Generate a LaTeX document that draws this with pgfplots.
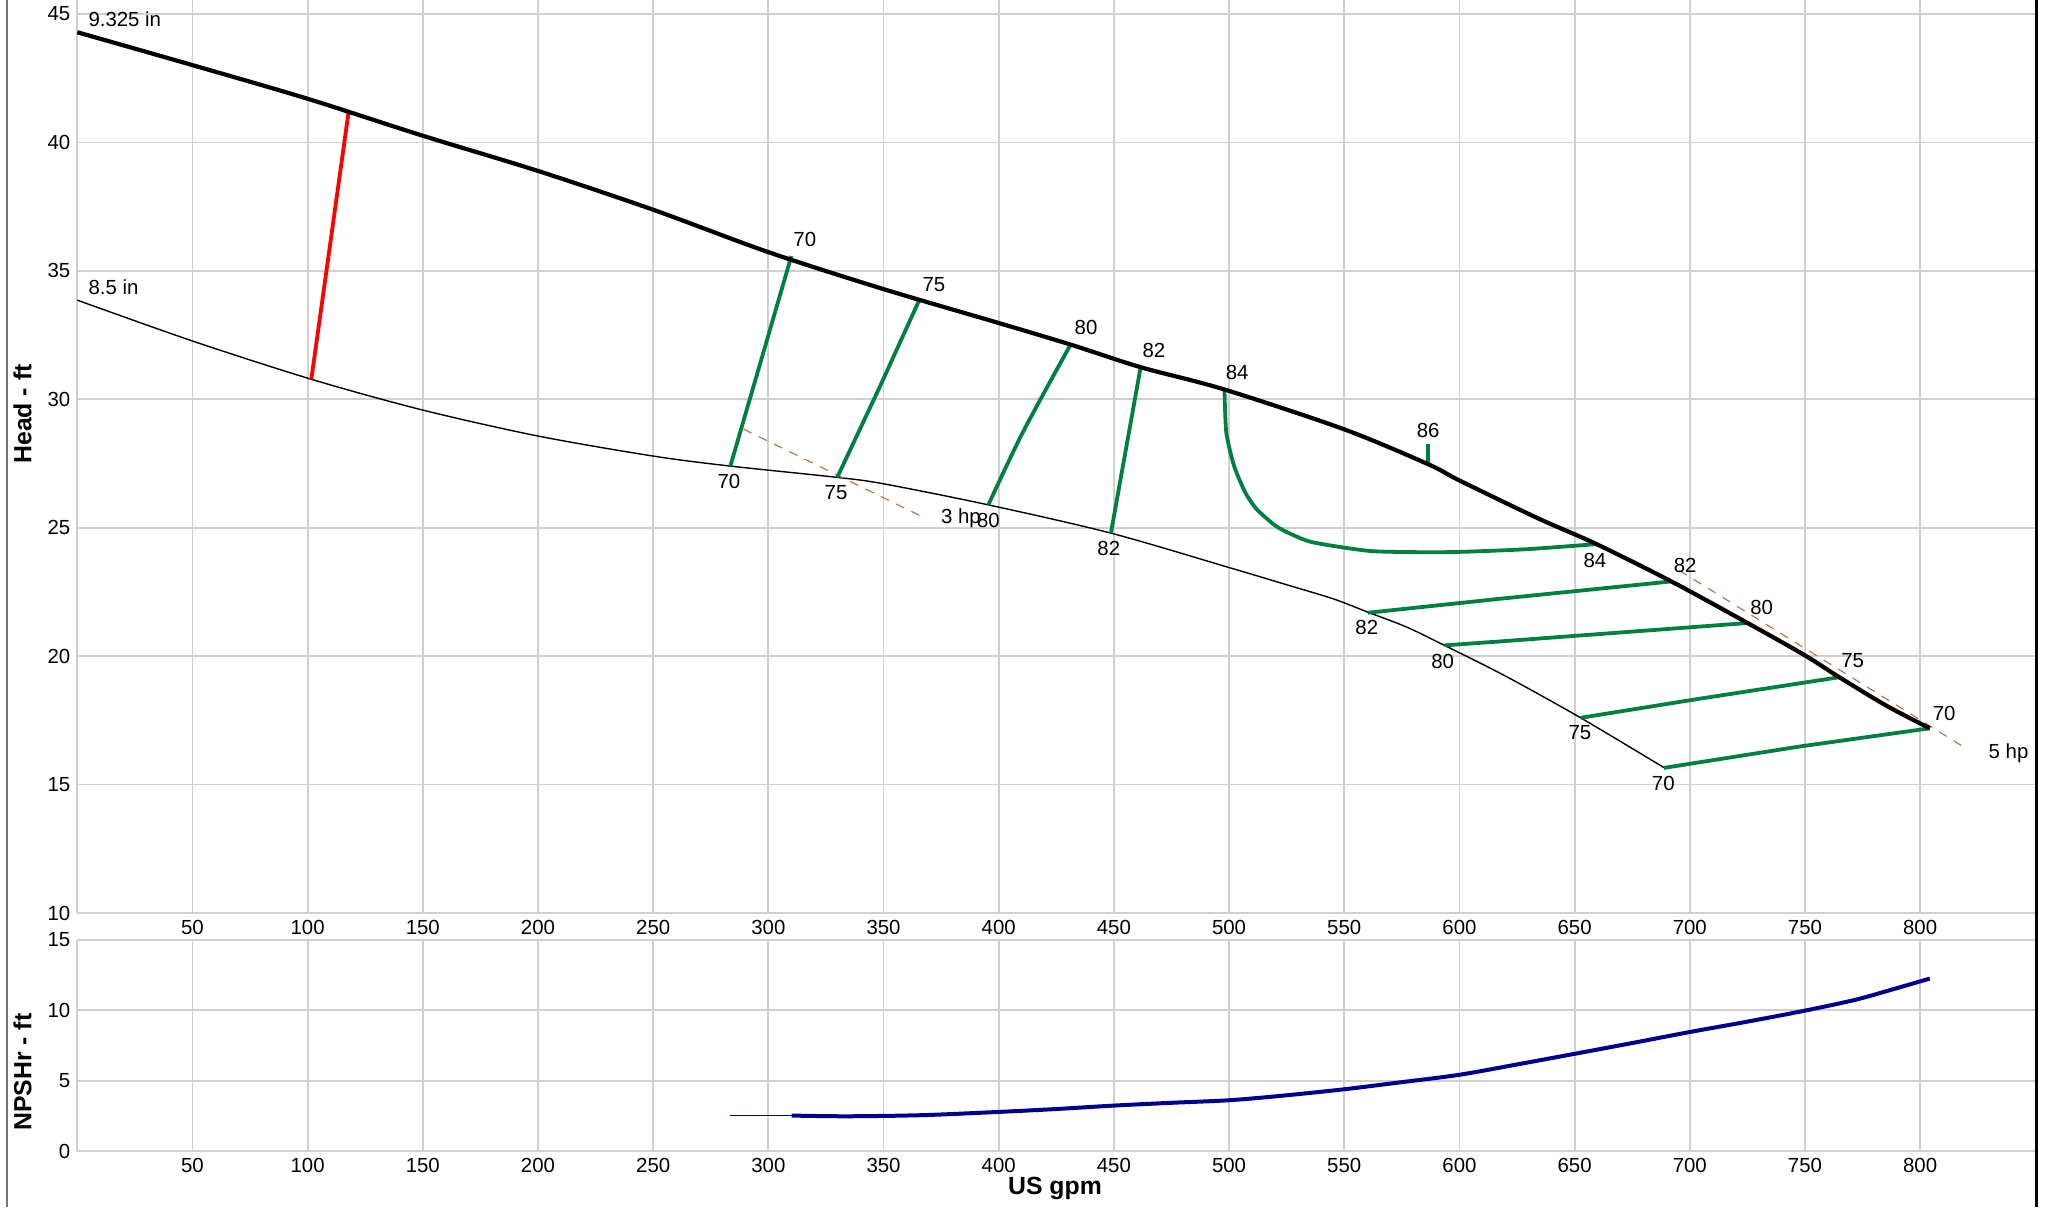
\documentclass[border=0pt]{standalone}
\usepackage{fontspec}
\setmainfont{Liberation Sans}
\usepackage{pgfplots}
\pgfplotsset{compat=1.18}
\definecolor{effgreen}{RGB}{0,128,64}
\definecolor{npshblue}{RGB}{0,0,140}
\definecolor{hpbrown}{RGB}{176,112,64}
\definecolor{gridc}{RGB}{208,208,208}
\tikzset{lab/.style={font=\fontsize{10.2}{12}\selectfont, inner sep=0pt}}
\pgfplotsset{
  common/.style={
    scale only axis, width=979pt,
    xmin=0, xmax=850,
    xtick={50,100,...,800},
    grid=major,
    grid style={draw=gridc, line width=0.9pt},
    axis x line*=bottom, axis y line*=left,
    axis line style={draw=gridc, line width=0.9pt, -},
    major tick length=0pt,
    tick style={draw=none},
    /pgf/number format/assume math mode=true,
    /pgf/number format/1000 sep={},
    ticklabel style={font=\fontsize{10.2}{12}\selectfont},
    clip=false,
  },
}
\begin{document}
\begin{tikzpicture}[x=1pt,y=1pt]
\path[use as bounding box] (0,0) rectangle (1022.5,-603.5);
\draw[black!55, line width=1pt] (3.6,0) -- (3.6,-603.5);
\draw[black, line width=1.2pt] (1018.2,0) -- (1018.2,-603.5);

\begin{axis}[common, at={(38.65pt,-456.5pt)}, anchor=south west,
  height=456.5pt, ymin=10, ymax=45.545, ytick={10,15,...,45}]
% 8.5 in impeller
\addplot[black, line width=0.7pt, smooth, tension=0.5] coordinates {
(0,33.86) (50,32.27) (101.6,30.78) (150,29.58) (200,28.57)
(250,27.79) (283.5,27.40) (329.9,26.96) (350,26.71) (395.5,25.89)
(448.7,24.79) (500,23.45) (525,22.78) (545.3,22.23)
(560.3,21.71) (576.9,21.14) (593.5,20.42) (620.1,19.22)
(652.6,17.60) (689,15.65)};
% 3 hp and 5 hp
\addplot[hpbrown, line width=0.55pt, dash pattern=on 4.5pt off 4pt] coordinates {(289.2,28.84) (368.1,25.37)};
\addplot[hpbrown, line width=0.55pt, dash pattern=on 4.5pt off 4pt] coordinates {(695.4,23.34) (820.1,16.40)};
% red line
\addplot[red, line width=1.9pt] coordinates {(101.6,30.78) (117.8,41.21)};
% efficiency lines
\addplot[effgreen, line width=1.9pt] coordinates {(283.5,27.40) (310.0,35.58)};
\addplot[effgreen, line width=1.9pt] coordinates {(329.9,26.96) (348.2,30.45) (365.6,33.88)};
\addplot[effgreen, line width=1.9pt, smooth] coordinates {(395.5,25.89) (410.5,28.72) (431.2,32.13)};
\addplot[effgreen, line width=1.9pt] coordinates {(448.7,24.79) (461.6,31.25)};
\addplot[effgreen, line width=1.9pt, smooth, tension=0.4] coordinates {
(498.0,30.39) (498.8,28.70) (502.2,27.40) (507.1,26.36) (512.1,25.71) (520.4,25.06)
(528.7,24.68) (537.0,24.42) (562.0,24.09) (595.2,24.05) (628.4,24.16) (659.1,24.36)};
\addplot[effgreen, line width=1.9pt] coordinates {(586.5,28.25) (586.5,27.47)};
\addplot[effgreen, line width=1.9pt] coordinates {(560.3,21.69) (617.1,22.23) (692.0,22.91)};
\addplot[effgreen, line width=1.9pt] coordinates {(593.5,20.42) (617.1,20.57) (725.1,21.29)};
\addplot[effgreen, line width=1.9pt] coordinates {(652.6,17.60) (704,18.34) (764.9,19.18)};
\addplot[effgreen, line width=1.9pt] coordinates {(688.8,15.65) (747.5,16.48) (804.1,17.19)};
% 9.325 in impeller
\addplot[black, line width=2.1pt, smooth, tension=0.5] coordinates {
(0,44.29) (50,43.01) (100,41.70) (150,40.26) (200,38.89) (250,37.38)
(300,35.73) (350,34.29) (400,32.97) (431.2,32.13)
(461.6,31.25) (497.7,30.39) (550,28.83) (586.5,27.47)
(600,26.84) (634.5,25.35) (659.1,24.38) (692,22.91)
(725.1,21.29) (750,20.03) (764.9,19.18) (785.4,18.07) (804.2,17.19)};
% labels
\node[lab, anchor=west] at (axis cs:4.7,44.8) {9.325 in};
\node[lab, anchor=west] at (axis cs:4.7,34.35) {8.5 in};
\node[lab, anchor=west] at (axis cs:374.8,25.37) {3 hp};
\node[lab, anchor=west] at (axis cs:829.6,16.24) {5 hp};
\node[lab] at (axis cs:315.8,36.23) {70};
\node[lab] at (axis cs:371.9,34.48) {75};
\node[lab] at (axis cs:437.9,32.78) {80};
\node[lab] at (axis cs:467.4,31.90) {82};
\node[lab] at (axis cs:503.5,31.06) {84};
\node[lab] at (axis cs:586.4,28.79) {86};
\node[lab] at (axis cs:698,23.53) {82};
\node[lab] at (axis cs:731.2,21.91) {80};
\node[lab] at (axis cs:770.7,19.81) {75};
\node[lab] at (axis cs:810.4,17.78) {70};
\node[lab] at (axis cs:282.9,26.80) {70};
\node[lab] at (axis cs:329.4,26.38) {75};
\node[lab] at (axis cs:395.5,25.28) {80};
\node[lab] at (axis cs:447.8,24.19) {82};
\node[lab] at (axis cs:658.8,23.74) {84};
\node[lab] at (axis cs:559.8,21.10) {82};
\node[lab] at (axis cs:592.7,19.78) {80};
\node[lab] at (axis cs:652.3,17.04) {75};
\node[lab] at (axis cs:688.5,15.05) {70};
\end{axis}

\begin{axis}[common, at={(38.65pt,-575.5pt)}, anchor=south west,
  height=105.5pt, ymin=0, ymax=15, ytick={0,5,10,15}]
\addplot[npshblue, line width=0.6pt] coordinates {(283.5,2.52) (310.1,2.52)};
\addplot[npshblue, line width=2pt, smooth, tension=0.5] coordinates {
(310.1,2.52) (334.3,2.47) (367,2.55) (400,2.78) (425.4,2.99)
(450,3.23) (473.8,3.42) (500,3.61) (522.3,3.92) (550,4.39) (574.2,4.88) (600,5.42)
(625.2,6.16) (650,6.91) (674.8,7.67) (700,8.46) (724.4,9.18) (750,9.98)
(772.1,10.76) (787.4,11.46) (804.2,12.26)};
\end{axis}

\node[rotate=90, font=\bfseries\fontsize{12.4}{14}\selectfont] at (11.25,-207) {Head - ft};
\node[rotate=90, font=\bfseries\fontsize{12.4}{14}\selectfont] at (11.25,-536) {NPSHr - ft};
\node[font=\bfseries\fontsize{12.4}{14}\selectfont] at (527.5,-594) {US gpm};
\end{tikzpicture}
\end{document}
